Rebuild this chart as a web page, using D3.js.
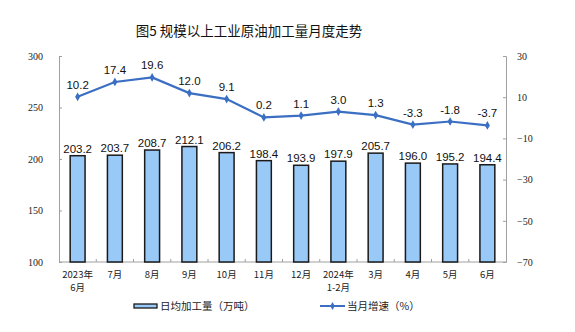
<!DOCTYPE html>
<html><head><meta charset="utf-8">
<script src="https://cdn.jsdelivr.net/npm/d3@7"></script>
<style>body{margin:0;background:#fff}svg{display:block}</style>
</head><body>
<svg id="c" width="575" height="332"></svg>
<script>
const categories = [["2023年","6月"],["7月"],["8月"],["9月"],["10月"],["11月"],["12月"],["2024年","1-2月"],["3月"],["4月"],["5月"],["6月"]];
const dailyOutput = [203.2,203.7,208.7,212.1,206.2,198.4,193.9,197.9,205.7,196.0,195.2,194.4];
const growth = [10.2,17.4,19.6,12.0,9.1,0.2,1.1,3.0,1.3,-3.3,-1.8,-3.7];
const leftTicks = [100,150,200,250,300];
const rightTicks = [-70,-50,-30,-10,10,30];
const title = "图5  规模以上工业原油加工量月度走势";
const barName = "日均加工量（万吨）";
const lineName = "当月增速（%）";

const svg = d3.select("#c");
const L = 59, R = 506, T = 56, B = 262;
const x = d3.scaleBand().domain(d3.range(categories.length)).range([L, R]).paddingInner(0.6).paddingOuter(0.3);
const yL = d3.scaleLinear().domain([100, 300]).range([B, T]);
const yR = d3.scaleLinear().domain([-70, 30]).range([B, T]);
const serif = "'Liberation Serif','DejaVu Serif',serif";
const sans = "'Liberation Sans',Arial,sans-serif";
const cjk = "'Noto Sans CJK SC',sans-serif";

svg.append("text").attr("x", 249).attr("y", 36).attr("text-anchor", "middle")
  .attr("font-family", cjk).attr("font-size", 13.5).attr("fill", "#111").text(title);

// axes
const gL = svg.append("g").attr("transform", `translate(${L},0)`)
  .call(d3.axisLeft(yL).tickValues(leftTicks).tickSize(-3).tickPadding(16));
const gR = svg.append("g").attr("transform", `translate(${R},0)`)
  .call(d3.axisRight(yR).tickValues(rightTicks).tickSize(-3).tickPadding(11));
[gL, gR].forEach(g => {
  g.select(".domain").attr("stroke", "#a0a0a0");
  g.selectAll(".tick line").attr("stroke", "#a0a0a0");
  g.selectAll(".tick text").attr("font-family", serif).attr("font-size", 10).attr("fill", "#222");
});
gL.selectAll(".tick text").attr("text-anchor", "end");

// bottom axis line + boundary ticks
svg.append("line").attr("x1", L).attr("x2", R).attr("y1", B).attr("y2", B).attr("stroke", "#a0a0a0");
svg.append("g").selectAll("line").data(d3.range(1, categories.length)).join("line")
  .attr("x1", i => L + i * (R - L) / categories.length).attr("x2", i => L + i * (R - L) / categories.length)
  .attr("y1", B).attr("y2", B - 3).attr("stroke", "#a0a0a0");

// category labels
const cl = svg.append("g").selectAll("text").data(categories).join("text")
  .attr("x", (d, i) => x(i) + x.bandwidth() / 2).attr("y", 278)
  .attr("text-anchor", "middle").attr("font-family", cjk).attr("font-size", 9.5).attr("fill", "#222");
cl.selectAll("tspan").data(d => d).join("tspan")
  .attr("x", function() { return d3.select(this.parentNode).attr("x"); })
  .attr("dy", (d, j) => j === 0 ? 0 : 13).text(d => d);

// bars
svg.append("g").selectAll("rect").data(dailyOutput).join("rect")
  .attr("x", (d, i) => x(i)).attr("width", x.bandwidth())
  .attr("y", d => yL(d)).attr("height", d => B - yL(d))
  .attr("fill", "#99c9f7").attr("stroke", "#1a1a1a").attr("stroke-width", 1.5);
svg.append("g").selectAll("text").data(dailyOutput).join("text")
  .attr("x", (d, i) => x(i) + x.bandwidth() / 2).attr("y", d => yL(d) - 3)
  .attr("text-anchor", "middle").attr("font-family", sans).attr("font-size", 11.5).attr("fill", "#111")
  .text(d => d.toFixed(1));

// line
const cx = i => x(i) + x.bandwidth() / 2;
svg.append("path").datum(growth)
  .attr("d", d3.line().x((d, i) => cx(i)).y(d => yR(d)))
  .attr("fill", "none").attr("stroke", "#3b6fc3").attr("stroke-width", 2.2);
svg.append("g").selectAll("path").data(growth).join("path")
  .attr("transform", (d, i) => `translate(${cx(i)},${yR(d)})`)
  .attr("d", d3.symbol(d3.symbolDiamond, 22)).attr("fill", "#3b6fc3");
svg.append("g").selectAll("text").data(growth).join("text")
  .attr("x", (d, i) => cx(i)).attr("y", d => yR(d) - 8)
  .attr("text-anchor", "middle").attr("font-family", sans).attr("font-size", 11.5).attr("fill", "#111")
  .text(d => d.toFixed(1));

// legend
const lg = svg.append("g");
lg.append("rect").attr("x", 134).attr("y", 304).attr("width", 23).attr("height", 4)
  .attr("fill", "#99c9f7").attr("stroke", "#1a1a1a").attr("stroke-width", 1.3);
lg.append("text").attr("x", 160).attr("y", 310).attr("font-family", cjk).attr("font-size", 10.5).attr("fill", "#222").text(barName);
lg.append("line").attr("x1", 320).attr("x2", 345).attr("y1", 306).attr("y2", 306).attr("stroke", "#3b6fc3").attr("stroke-width", 2);
lg.append("path").attr("transform", "translate(332.5,306)").attr("d", d3.symbol(d3.symbolDiamond, 18)).attr("fill", "#3b6fc3");
lg.append("text").attr("x", 347).attr("y", 310).attr("font-family", cjk).attr("font-size", 10.5).attr("fill", "#222").text(lineName);
</script>
</body></html>
